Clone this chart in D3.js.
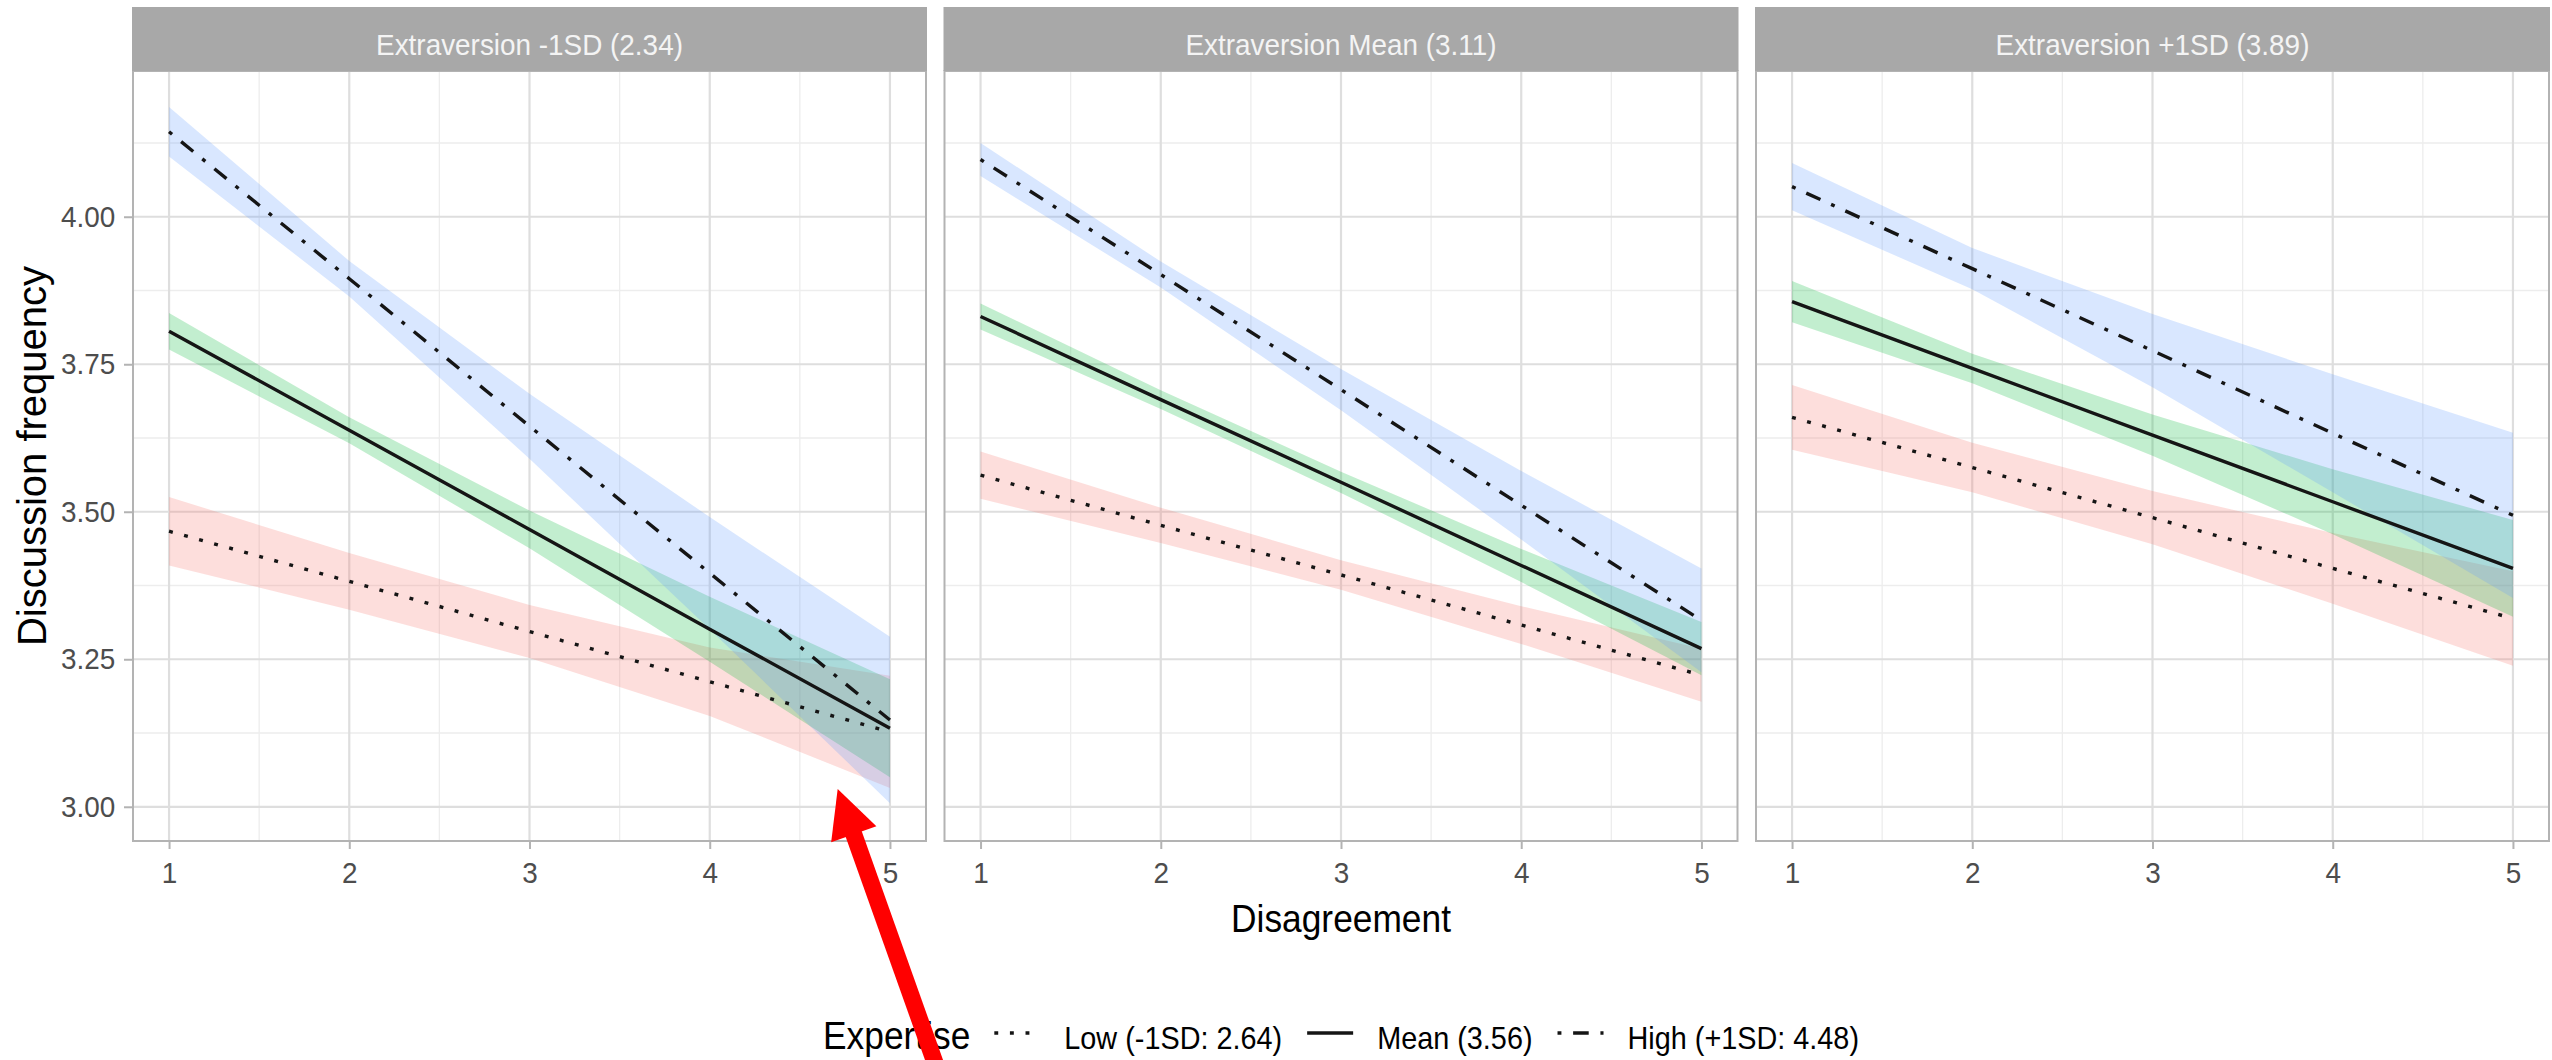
<!DOCTYPE html>
<html>
<head>
<meta charset="utf-8">
<script src="https://cdn.jsdelivr.net/npm/d3@7"></script>
<style>
  html, body { margin: 0; padding: 0; background: #ffffff; }
  svg text { font-family: "Liberation Sans", Arial, Helvetica, sans-serif; }
</style>
</head>
<body>
<svg id="chart" width="2552" height="1060"></svg>
<script>
// ---------------- DATA ----------------
const xValues = [1, 2, 3, 4, 5];
const panelLabels = ["Extraversion -1SD (2.34)", "Extraversion Mean (3.11)", "Extraversion +1SD (3.89)"];
const groupLabels = ["Low (-1SD: 2.64)", "Mean (3.56)", "High (+1SD: 4.48)"];
const legendTitle = "Expertise";
const xTickValues = [1, 2, 3, 4, 5];
const yTickValues = [3.00, 3.25, 3.50, 3.75, 4.00];
const xMinorValues = [1.5, 2.5, 3.5, 4.5];
const yMinorValues = [3.125, 3.375, 3.625, 3.875, 4.125];
const xTitle = "Disagreement";
const yTitle = "Discussion frequency";

// Low expertise (dotted, red ribbon) — one row per panel
const fitLow = [
  [3.467, 3.382, 3.297, 3.212, 3.127],
  [3.562, 3.477, 3.393, 3.308, 3.223],
  [3.660, 3.575, 3.490, 3.404, 3.319]
];
const lowerLow = [
  [3.409, 3.334, 3.252, 3.154, 3.032],
  [3.522, 3.447, 3.368, 3.276, 3.178],
  [3.605, 3.533, 3.445, 3.344, 3.239]
];
const upperLow = [
  [3.525, 3.430, 3.342, 3.270, 3.222],
  [3.602, 3.507, 3.418, 3.340, 3.268],
  [3.715, 3.617, 3.535, 3.464, 3.399]
];

// Mean expertise (solid, green ribbon)
const fitMean = [
  [3.806, 3.638, 3.470, 3.301, 3.133],
  [3.831, 3.690, 3.550, 3.409, 3.268],
  [3.856, 3.743, 3.630, 3.517, 3.404]
];
const lowerMean = [
  [3.775, 3.616, 3.438, 3.246, 3.050],
  [3.809, 3.674, 3.532, 3.381, 3.223],
  [3.821, 3.718, 3.595, 3.462, 3.322]
];
const upperMean = [
  [3.837, 3.660, 3.502, 3.356, 3.216],
  [3.853, 3.706, 3.568, 3.437, 3.313],
  [3.891, 3.768, 3.665, 3.572, 3.486]
];

// High expertise (dot-dash, blue ribbon)
const fitHigh = [
  [4.144, 3.895, 3.645, 3.396, 3.147],
  [4.097, 3.902, 3.707, 3.511, 3.316],
  [4.051, 3.912, 3.773, 3.633, 3.494]
];
const lowerHigh = [
  [4.102, 3.865, 3.590, 3.301, 3.006],
  [4.069, 3.880, 3.672, 3.453, 3.228],
  [4.011, 3.877, 3.711, 3.533, 3.354]
];
const upperHigh = [
  [4.186, 3.925, 3.700, 3.491, 3.288],
  [4.125, 3.924, 3.742, 3.569, 3.404],
  [4.091, 3.947, 3.835, 3.733, 3.634]
];

// Red arrow annotation (in panel-1 data coordinates): tip and tail
const arrowTip = [4.71, 3.03];
const arrowTail = [5.284, 2.537];

// ---------------- LAYOUT / STYLE ----------------
const ribbonColors = ["#F8766D", "#00BA38", "#619CFF"];
const dashPatterns = ["3.9 11.7", null, "3.9 11.7 15.6 11.7"];
const lineColor = "#151515";
const sx = 0.93; // slight horizontal condensation of text

const svg = d3.select("#chart");
const panelLeft0 = 133, panelW = 793, panelGap = 18.5;
const stripTop = 7, stripH = 64, panelTop = 71, panelBottom = 841;

const x = d3.scaleLinear().domain([0.8, 5.2]).range([0, panelW]);
const y = d3.scaleLinear().domain([2.942, 4.247]).range([panelBottom, panelTop]);

const series = [
  { fit: fitLow,  lo: lowerLow,  hi: upperLow },
  { fit: fitMean, lo: lowerMean, hi: upperMean },
  { fit: fitHigh, lo: lowerHigh, hi: upperHigh }
];

function addText(sel, opts) {
  return sel.append("text")
    .attr("transform", `translate(${opts.x},${opts.y}) scale(${opts.sx == null ? sx : opts.sx},1)`)
    .attr("text-anchor", opts.anchor || "start")
    .attr("font-size", opts.size)
    .attr("fill", opts.fill || "#000")
    .text(opts.text);
}

const area = d3.area().x(d => x(d.x)).y0(d => y(d.lo)).y1(d => y(d.hi));
const line = d3.line().x(d => x(d.x)).y(d => y(d.fit));

panelLabels.forEach((label, i) => {
  const left = panelLeft0 + i * (panelW + panelGap);
  const g = svg.append("g").attr("transform", `translate(${left},0)`);

  g.append("rect").attr("x", 0).attr("y", panelTop).attr("width", panelW)
    .attr("height", panelBottom - panelTop).attr("fill", "#ffffff");

  // minor grid
  g.selectAll(".minorY").data(yMinorValues).join("line")
    .attr("x1", 0).attr("x2", panelW).attr("y1", d => y(d)).attr("y2", d => y(d))
    .attr("stroke", "#ededed").attr("stroke-width", 1.3);
  g.selectAll(".minorX").data(xMinorValues).join("line")
    .attr("y1", panelTop).attr("y2", panelBottom).attr("x1", d => x(d)).attr("x2", d => x(d))
    .attr("stroke", "#ededed").attr("stroke-width", 1.3);
  // major grid
  g.selectAll(".majorY").data(yTickValues).join("line")
    .attr("x1", 0).attr("x2", panelW).attr("y1", d => y(d)).attr("y2", d => y(d))
    .attr("stroke", "#dedede").attr("stroke-width", 2.2);
  g.selectAll(".majorX").data(xTickValues).join("line")
    .attr("y1", panelTop).attr("y2", panelBottom).attr("x1", d => x(d)).attr("x2", d => x(d))
    .attr("stroke", "#dedede").attr("stroke-width", 2.2);

  // ribbons
  series.forEach((s, k) => {
    const data = xValues.map((xv, j) => ({ x: xv, lo: s.lo[i][j], hi: s.hi[i][j], fit: s.fit[i][j] }));
    g.append("path").datum(data).attr("d", area)
      .attr("fill", ribbonColors[k]).attr("fill-opacity", 0.24);
  });
  // lines
  series.forEach((s, k) => {
    const data = xValues.map((xv, j) => ({ x: xv, fit: s.fit[i][j] }));
    const p = g.append("path").datum(data).attr("d", line)
      .attr("fill", "none").attr("stroke", lineColor).attr("stroke-width", 3.4);
    if (dashPatterns[k]) p.attr("stroke-dasharray", dashPatterns[k]);
  });

  // panel border
  g.append("rect").attr("x", 0).attr("y", panelTop).attr("width", panelW)
    .attr("height", panelBottom - panelTop).attr("fill", "none")
    .attr("stroke", "#b3b3b3").attr("stroke-width", 2);

  // strip
  g.append("rect").attr("x", -1).attr("y", stripTop).attr("width", panelW + 2)
    .attr("height", stripH).attr("fill", "#a8a8a8");
  addText(g, { x: panelW / 2, y: 55, text: label, size: 30, anchor: "middle", fill: "#f4f4f4" });

  // x axis
  const xa = g.append("g").attr("transform", `translate(0,${panelBottom})`)
    .call(d3.axisBottom(x).tickValues(xTickValues).tickFormat(d3.format("d")).tickSize(8).tickPadding(13));
  xa.select(".domain").remove();
  xa.selectAll(".tick line").attr("stroke", "#b3b3b3").attr("stroke-width", 2);
  xa.selectAll(".tick text").attr("font-size", 30).attr("fill", "#4d4d4d")
    .attr("font-family", "Liberation Sans, Arial, sans-serif")
    .attr("transform", `scale(${sx},1)`);

  // y axis (first panel only)
  if (i === 0) {
    const ya = g.append("g")
      .call(d3.axisLeft(y).tickValues(yTickValues).tickFormat(d3.format(".2f")).tickSize(9).tickPadding(10));
    ya.select(".domain").remove();
    ya.selectAll(".tick line").attr("stroke", "#b3b3b3").attr("stroke-width", 2);
    ya.selectAll(".tick text").attr("font-size", 30).attr("fill", "#4d4d4d")
      .attr("font-family", "Liberation Sans, Arial, sans-serif")
      .attr("transform", `scale(${sx},1)`);
  }
});

// axis titles
const plotCenterX = panelLeft0 + (3 * panelW + 2 * panelGap) / 2;
addText(svg, { x: plotCenterX, y: 932, text: xTitle, size: 38, anchor: "middle" });
svg.append("text")
  .attr("transform", `translate(46,${(panelTop + panelBottom) / 2}) rotate(-90)`)
  .attr("text-anchor", "middle").attr("font-size", 40).attr("fill", "#000")
  .text(yTitle);

// legend
const legend = svg.append("g");
const keyW = 46, gapTitleKey = 24, gapKeyLabel = 24, gapLabelKey = 25;
let cursor = 0;
const baseline = 1049, keyY = 1033;
const tTitle = addText(legend, { x: 0, y: baseline, text: legendTitle, size: 38 });
cursor += tTitle.node().getComputedTextLength() * sx + gapTitleKey;
groupLabels.forEach((lab, k) => {
  const key = legend.append("line")
    .attr("x1", cursor).attr("x2", cursor + keyW).attr("y1", keyY).attr("y2", keyY)
    .attr("stroke", lineColor).attr("stroke-width", 3.4);
  if (dashPatterns[k]) key.attr("stroke-dasharray", dashPatterns[k]);
  cursor += keyW + gapKeyLabel;
  const t = addText(legend, { x: cursor, y: baseline, text: lab, size: 31 });
  cursor += t.node().getComputedTextLength() * sx + (k < groupLabels.length - 1 ? gapLabelKey : 0);
});
legend.attr("transform", `translate(${plotCenterX - cursor / 2},0)`);

// red arrow annotation (panel 1 coordinates)
const ax0 = panelLeft0 + x(arrowTail[0]), ay0 = y(arrowTail[1]);
const ax1 = panelLeft0 + x(arrowTip[0]), ay1 = y(arrowTip[1]);
const dx = ax1 - ax0, dy = ay1 - ay0, len = Math.hypot(dx, dy);
const ux = dx / len, uy = dy / len, nx = -uy, ny = ux;
const headLen = 48, headHalf = 24;
const bx = ax1 - ux * headLen, by = ay1 - uy * headLen;
svg.append("line").attr("x1", ax0).attr("y1", ay0).attr("x2", bx + ux * 2).attr("y2", by + uy * 2)
  .attr("stroke", "#ff0000").attr("stroke-width", 17);
svg.append("path")
  .attr("d", `M${ax1},${ay1} L${bx + nx * headHalf},${by + ny * headHalf} L${bx - nx * headHalf},${by - ny * headHalf} Z`)
  .attr("fill", "#ff0000");
</script>
</body>
</html>
